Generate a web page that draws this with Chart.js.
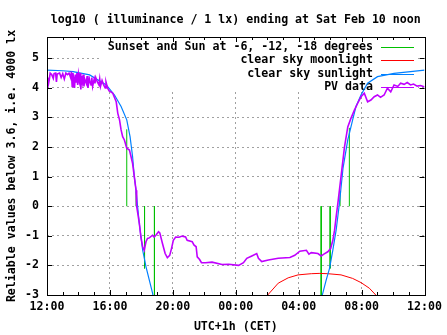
<!DOCTYPE html>
<html>
<head>
<meta charset="utf-8">
<script src="https://cdn.jsdelivr.net/npm/chart.js@4"></script>
<style>
  body { margin: 0; background: #fff; }
  #wrap { width: 447px; height: 335px; }
</style>
</head>
<body>
<div id="wrap"><canvas id="lux" width="447" height="335"></canvas></div>
<script>
// hours after 12:00 on the x axis, log10(lux) on the y axis
const tickHours = [0, 4, 8, 12, 16, 20, 24];
const tickLabels = ['12:00', '16:00', '20:00', '00:00', '04:00', '08:00', '12:00'];

// sunset/sunrise and sun at -6, -12, -18 degrees
const twilightHours = [5.07, 5.66, 6.2, 6.83, 17.43, 18.0, 18.63, 19.22];
const twilightLevels = [2.6, 0.5, -2.1, -3.2, -3.2, -2.1, 0.5, 2.65];

const moonHours = [13.7, 14.03, 14.70, 15.33, 15.96, 16.80, 17.3, 17.85, 18.69, 19.43, 19.96, 20.49, 20.90, 21.2];
const moonValues = [-3.25, -3.0, -2.60, -2.42, -2.32, -2.28, -2.27, -2.28, -2.32, -2.44, -2.58, -2.77, -3.0, -3.2];

const sunHours = [0, 1.0, 1.66, 2.71, 3.77, 4.29, 4.71, 5.07, 5.28, 5.44, 5.55, 5.66, 5.87, 6.08, 6.29, 6.50, 6.71, 6.9,
  17.35, 17.5, 17.75, 17.96, 18.17, 18.38, 18.59, 18.82, 19.12, 19.43, 19.64, 19.96, 20.38, 21.01, 22.06, 23.11, 24];
const sunValues = [4.6, 4.58, 4.55, 4.44, 4.10, 3.76, 3.37, 2.92, 2.35, 1.68, 1.0, 0.54, -0.6, -1.48, -2.04, -2.49, -2.94, -3.5,
  -3.5, -3.0, -2.49, -2.1, -1.48, -0.81, 0.1, 1.3, 2.24, 2.92, 3.37, 3.76, 4.16, 4.38, 4.49, 4.55, 4.6];

// PV sensor, split into afternoon / dusk / night / dawn pieces
const pvDayHours = [0.0, 0.05, 0.1, 0.15, 0.2, 0.3, 0.4, 0.45, 0.55, 0.6, 0.65, 0.8, 0.9, 1.0, 1.1, 1.2, 1.3, 1.4, 1.5, 1.55,
  1.6, 1.65, 1.7, 1.75, 1.8, 1.85, 1.9, 1.95, 2.0, 2.05, 2.1, 2.15, 2.2, 2.25, 2.3, 2.35, 2.4, 2.5, 2.55, 2.6,
  2.7, 2.8, 2.85, 2.9, 3.0, 3.05, 3.1, 3.2, 3.3, 3.35, 3.4, 3.5, 3.6, 3.7, 3.75, 3.85, 3.95, 4.05];
const pvDayValues = [4.2, 4.35, 4.15, 4.3, 4.5, 4.45, 4.32, 4.48, 4.5, 4.2, 4.47, 4.5, 4.35, 4.48, 4.3, 4.5, 4.45, 4.5, 4.35, 4.55,
  4.05, 4.5, 4.3, 4.0, 4.45, 4.2, 4.5, 4.1, 4.45, 4.25, 4.5, 3.95, 4.4, 4.2, 4.45, 4.05, 4.3, 4.15, 4.4, 4.0,
  4.3, 4.1, 4.35, 4.05, 4.3, 4.15, 4.35, 4.2, 4.1, 4.3, 4.05, 4.25, 4.1, 4.0, 4.2, 4.0, 3.9, 3.87];
const pvDuskHours = [4.18, 4.40, 4.50, 4.61, 4.71, 4.81, 4.92, 5.07, 5.24, 5.34, 5.44, 5.55, 5.66, 5.70, 5.87, 5.97, 6.08, 6.18,
  6.29, 6.39, 6.50, 6.71, 6.81, 6.92, 7.09, 7.17, 7.34, 7.51, 7.65, 7.80, 7.91, 8.03, 8.18, 8.39, 8.60, 8.81, 8.91,
  9.23, 9.34, 9.48, 9.55, 9.70, 9.82];
const pvDuskValues = [3.82, 3.53, 3.14, 2.92, 2.58, 2.35, 2.24, 1.96, 1.9, 1.68, 1.45, 1.0, 0.54, 0, -0.58, -1.04, -1.37, -1.49,
  -1.2, -1.09, -1.07, -0.98, -1.04, -0.98, -0.86, -0.9, -1.26, -1.6, -1.74, -1.66, -1.44, -1.15, -1.04, -1.05, -1.01, -1.04, -1.15,
  -1.2, -1.31, -1.37, -1.71, -1.8, -1.91];
const pvNightHours = [10.08, 10.49, 11.12, 11.55, 12.18, 12.49, 12.70, 13.02, 13.33, 13.44, 13.65, 14.07, 14.70, 15.44, 15.75,
  16.07, 16.49, 16.65, 16.80, 17.22, 17.43, 17.6, 17.85];
const pvNightValues = [-1.91, -1.89, -1.97, -1.96, -2.0, -1.91, -1.76, -1.68, -1.6, -1.76, -1.87, -1.82, -1.76, -1.73, -1.66,
  -1.52, -1.49, -1.62, -1.57, -1.6, -1.68, -1.62, -1.54];
const pvDawnHours = [18.03, 18.17, 18.28, 18.38, 18.49, 18.69, 18.91, 19.12, 19.32, 19.54, 19.75, 19.96, 20.17, 20.38, 20.59,
  20.80, 21.01, 21.2, 21.43, 21.64, 21.85, 22.06, 22.3, 22.48, 22.7, 22.9, 23.11, 23.3, 23.53, 23.75, 23.96, 24.0];
const pvDawnValues = [-1.43, -1.15, -0.81, -0.36, 0.1, 1.0, 2.0, 2.68, 2.97, 3.25, 3.48, 3.7, 3.82, 3.53, 3.59,
  3.7, 3.76, 3.68, 3.76, 3.99, 3.87, 4.1, 4.05, 4.16, 4.12, 4.18, 4.1, 4.13, 4.06, 4.08, 4.04, 4.04];

const toPoints = (xs, ys) => xs.map((x, i) => ({ x: x, y: ys[i] }));

// each twilight mark is a vertical stroke from 0 to its level, split by gaps
const twilightPoints = [];
twilightHours.forEach((h, i) => {
  twilightPoints.push({ x: h, y: 0 }, { x: h, y: twilightLevels[i] }, { x: h, y: null });
});

const pvPoints = toPoints(
  pvDayHours.concat(pvDuskHours, pvNightHours, pvDawnHours),
  pvDayValues.concat(pvDuskValues, pvNightValues, pvDawnValues)
);

const FONT = "'DejaVu Sans Mono', 'Liberation Mono', monospace";
Chart.defaults.font.family = FONT;
Chart.defaults.font.size = 11.6;
Chart.defaults.font.weight = 'bold';
Chart.defaults.font.lineHeight = '14px';
Chart.defaults.color = '#000';

const gridColor = '#a0a0a0';

// gnuplot-ish frame: opaque key box, inward ticks, black border
const gnuplotFrame = {
  id: 'gnuplotFrame',
  beforeDatasetsDraw(chart) {
    const ctx = chart.ctx;
    const a = chart.chartArea;
    ctx.save();
    ctx.fillStyle = '#fff';
    ctx.fillRect(100, a.top, 318, 55);
    ctx.font = 'bold 11.6px ' + FONT;
    ctx.textAlign = 'right';
    ctx.textBaseline = 'middle';
    chart.data.datasets.forEach((ds, i) => {
      const y = 47 + i * 13.3;
      ctx.fillStyle = '#000';
      ctx.fillText(ds.label, 373, y);
      ctx.strokeStyle = ds.borderColor;
      ctx.lineWidth = 1;
      ctx.beginPath();
      ctx.moveTo(381, Math.round(y) + 0.5);
      ctx.lineTo(414, Math.round(y) + 0.5);
      ctx.stroke();
    });
    ctx.restore();
  },
  afterDatasetsDraw(chart) {
    const ctx = chart.ctx;
    const a = chart.chartArea;
    const { x, y } = chart.scales;
    ctx.save();
    ctx.strokeStyle = '#000';
    ctx.lineWidth = 1;
    ctx.beginPath();
    for (let h = 0; h <= 24; h++) {
      const px = Math.round(x.getPixelForValue(h)) + 0.5;
      const len = h % 4 === 0 ? 5 : 3;
      ctx.moveTo(px, a.bottom); ctx.lineTo(px, a.bottom - len);
      ctx.moveTo(px, a.top); ctx.lineTo(px, a.top + len);
    }
    for (let v = -3; v <= 5; v++) {
      const py = Math.round(y.getPixelForValue(v)) + 0.5;
      ctx.moveTo(a.left, py); ctx.lineTo(a.left + 5, py);
      ctx.moveTo(a.right, py); ctx.lineTo(a.right - 5, py);
    }
    ctx.stroke();
    ctx.strokeRect(Math.round(a.left) + 0.5, Math.round(a.top) + 0.5,
      Math.round(a.right - a.left), Math.round(a.bottom - a.top));
    ctx.restore();
  }
};

new Chart(document.getElementById('lux'), {
  type: 'line',
  data: {
    datasets: [{
      label: 'Sunset and Sun at -6, -12, -18 degrees',
      data: twilightPoints,
      borderColor: '#00c000',
      borderWidth: 1,
      spanGaps: false,
      order: 4
    }, {
      label: 'clear sky moonlight',
      data: toPoints(moonHours, moonValues),
      borderColor: '#ff0000',
      borderWidth: 1,
      order: 3
    }, {
      label: 'clear sky sunlight',
      data: toPoints(sunHours, sunValues),
      borderColor: '#0080ff',
      borderWidth: 1.2,
      order: 2
    }, {
      label: 'PV data',
      data: pvPoints,
      borderColor: '#c000ff',
      borderWidth: 1.6,
      order: 1
    }]
  },
  options: {
    responsive: false,
    animation: false,
    parsing: true,
    elements: {
      point: { radius: 0 },
      line: { tension: 0, fill: false }
    },
    layout: { padding: { top: 0, right: 20, bottom: 0, left: 0 } },
    plugins: {
      legend: { display: false },
      tooltip: { enabled: false },
      title: {
        display: true,
        fullSize: false,
        text: 'log10 ( illuminance / 1 lx) ending at Sat Feb 10 noon',
        font: { size: 11.6, weight: 'bold', lineHeight: '14px' },
        color: '#000',
        padding: { top: 13, bottom: 10 }
      }
    },
    scales: {
      x: {
        type: 'linear',
        min: 0,
        max: 24,
        afterBuildTicks: (scale) => { scale.ticks = tickHours.map(v => ({ value: v })); },
        afterFit: (scale) => { scale.height = 40; },
        ticks: {
          autoSkip: false,
          maxRotation: 0,
          padding: 5,
          callback: (v, i) => tickLabels[i]
        },
        grid: {
          drawTicks: false,
          color: (c) => (c.tick && (c.tick.value === 0 || c.tick.value === 24)) ? 'rgba(0,0,0,0)' : gridColor
        },
        border: { display: false, dash: [2, 3] },
        title: {
          display: true,
          text: 'UTC+1h (CET)',
          padding: { top: 6, bottom: 1 }
        }
      },
      y: {
        type: 'linear',
        min: -3,
        max: 5.72,
        afterBuildTicks: (scale) => { scale.ticks = scale.ticks.filter(t => Number.isInteger(t.value)); },
        afterFit: (scale) => { scale.width = 47; },
        ticks: { stepSize: 1, padding: 8 },
        grid: {
          drawTicks: false,
          color: (c) => (c.tick && c.tick.value === -3) ? 'rgba(0,0,0,0)' : gridColor
        },
        border: { display: false, dash: [2, 3] },
        title: {
          display: true,
          text: 'Reliable values below 3.6, i.e. 4000 lx',
          padding: { top: 5, bottom: 0 }
        }
      }
    }
  },
  plugins: [gnuplotFrame]
});
</script>
</body>
</html>
